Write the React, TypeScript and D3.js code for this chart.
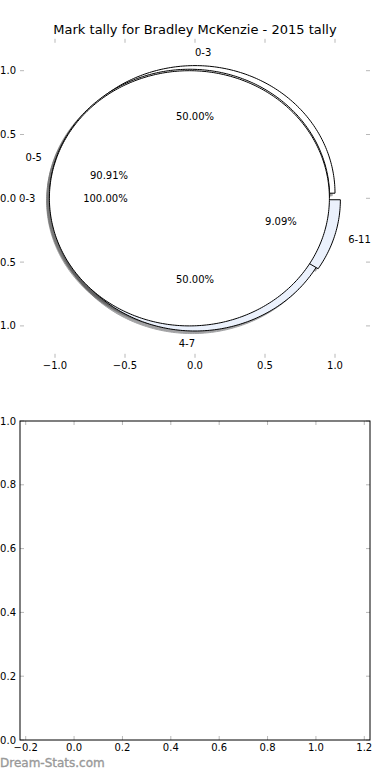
import React from 'react';
import * as d3 from 'd3';

const title = 'Mark tally for Bradley McKenzie - 2015 tally';
const pieALabels = ['0-3', '4-7'];
const pieAValues = [1, 1];
const pieBLabels = ['0-5', '6-11'];
const pieBValues = [10, 1];
const pieCLabels = ['0-3'];
const pieCValues = [1];
const wedgeColors = ['#ffffff', '#ebf1fc'];
const explodeAmt = 0.04;
const topXTicks = [-1, -0.5, 0, 0.5, 1];
const topYTicks = [-1, -0.5, 0, 0.5, 1];
const botXTicks = [-0.2, 0, 0.2, 0.4, 0.6, 0.8, 1.0, 1.2];
const botYTicks = [0, 0.2, 0.4, 0.6, 0.8, 1.0];
const watermark = 'Dream-Stats.com';

const FONT = 'DejaVu Sans';
const TICK_COLOR = '#b8b8b8';

const L = 20, R = 370;
const topAx = { top: 38.8, bottom: 357.8 };
const botAx = { top: 421, bottom: 740 };

const xTop = d3.scaleLinear().domain([-1.25, 1.25]).range([L, R]);
const yTop = d3.scaleLinear().domain([-1.25, 1.25]).range([topAx.bottom, topAx.top]);
const xBot = d3.scaleLinear().domain([-0.2236, 1.2236]).range([L, R]);
const yBot = d3.scaleLinear().domain([0, 1]).range([botAx.bottom, botAx.top]);

const lineGen = d3
  .line<[number, number]>()
  .x((d) => xTop(d[0]))
  .y((d) => yTop(d[1]));

function wedgePoints(cx: number, cy: number, a0: number, a1: number): [number, number][] {
  const full = Math.abs(a1 - a0 - 2 * Math.PI) < 1e-9;
  const n = Math.max(8, Math.ceil(((a1 - a0) / (2 * Math.PI)) * 360));
  const arc: [number, number][] = d3.range(n + 1).map((i) => {
    const t = a0 + ((a1 - a0) * i) / n;
    return [cx + Math.cos(t), cy + Math.sin(t)] as [number, number];
  });
  if (full) return arc;
  return [[cx, cy], ...arc];
}

type Wedge = {
  label: string;
  pct: string;
  color: string;
  cx: number;
  cy: number;
  a0: number;
  a1: number;
  mid: number;
};

function buildPie(values: number[], labels: string[]): Wedge[] {
  const total = d3.sum(values);
  const arcs = d3
    .pie<number>()
    .sort(null)
    .startAngle(0)
    .endAngle(2 * Math.PI)(values);
  return arcs.map((a, i) => {
    const mid = (a.startAngle + a.endAngle) / 2;
    return {
      label: labels[i],
      pct: d3.format('.2f')((values[i] / total) * 100) + '%',
      color: wedgeColors[i % wedgeColors.length],
      cx: explodeAmt * Math.cos(mid),
      cy: explodeAmt * Math.sin(mid),
      a0: a.startAngle,
      a1: a.endAngle,
      mid,
    };
  });
}

const pies = [
  buildPie(pieAValues, pieALabels),
  buildPie(pieBValues, pieBLabels),
  buildPie(pieCValues, pieCLabels),
];
const allWedges = pies.flat();

function shadowColor(c: string) {
  const rgb = d3.rgb(c);
  return d3.rgb(rgb.r * 0.3, rgb.g * 0.3, rgb.b * 0.3).formatHex();
}

const fmt1 = d3.format('.1f');

export default function App() {
  return (
    <svg
      width={390}
      height={780}
      style={{ position: 'absolute', left: 0, top: 0, background: '#fff' }}
      fontFamily={FONT}
    >
      <rect x={0} y={0} width={390} height={780} fill="#fff" />
      {/* title */}
      <text x={195} y={34} textAnchor="middle" fontSize={13} fill="#000">
        {title}
      </text>

      {/* shadows */}
      {allWedges.map((w, i) => {
        const pts = wedgePoints(w.cx - 0.02, w.cy - 0.02, w.a0, w.a1);
        const c = shadowColor(w.color);
        return (
          <path
            key={'s' + i}
            d={lineGen(pts) + 'Z'}
            fill={c}
            stroke={c}
            strokeWidth={1}
            opacity={0.5}
          />
        );
      })}
      {/* wedges */}
      {allWedges.map((w, i) => {
        const pts = wedgePoints(w.cx, w.cy, w.a0, w.a1);
        return (
          <path
            key={'w' + i}
            d={lineGen(pts) + 'Z'}
            fill={w.color}
            stroke="#000"
            strokeWidth={1}
            strokeLinejoin="miter"
          />
        );
      })}
      {/* labels */}
      {allWedges.map((w, i) => {
        const lx = w.cx + 1.1 * Math.cos(w.mid);
        const ly = w.cy + 1.1 * Math.sin(w.mid);
        const px = w.cx + 0.6 * Math.cos(w.mid);
        const py = w.cy + 0.6 * Math.sin(w.mid);
        const anchorX = 1.1 * Math.cos(w.mid);
        return (
          <g key={'t' + i} fontSize={10} fill="#000">
            <text
              x={xTop(lx)}
              y={yTop(ly)}
              dy="0.35em"
              textAnchor={anchorX > 0 ? 'start' : 'end'}
            >
              {w.label}
            </text>
            <text x={xTop(px)} y={yTop(py)} dy="0.35em" textAnchor="middle">
              {w.pct}
            </text>
          </g>
        );
      })}

      {/* top axes ticks */}
      <g stroke={TICK_COLOR} strokeWidth={1}>
        {topXTicks.map((t, i) => (
          <g key={'tx' + i}>
            <line x1={xTop(t)} x2={xTop(t)} y1={topAx.bottom} y2={topAx.bottom - 4} />
            <line x1={xTop(t)} x2={xTop(t)} y1={topAx.top} y2={topAx.top + 4} />
          </g>
        ))}
        {topYTicks.map((t, i) => (
          <g key={'ty' + i}>
            <line x1={L} x2={L + 4} y1={yTop(t)} y2={yTop(t)} />
            <line x1={R} x2={R - 4} y1={yTop(t)} y2={yTop(t)} />
          </g>
        ))}
      </g>
      <g fontSize={10} fill="#000">
        {topXTicks.map((t, i) => (
          <text key={'txl' + i} x={xTop(t)} y={topAx.bottom + 11} textAnchor="middle">
            {fmt1(t)}
          </text>
        ))}
        {topYTicks.map((t, i) => (
          <text key={'tyl' + i} x={L - 4} y={yTop(t)} dy="0.35em" textAnchor="end">
            {fmt1(t)}
          </text>
        ))}
      </g>

      {/* bottom axes */}
      <g stroke={TICK_COLOR} strokeWidth={1}>
        {botXTicks.map((t, i) => (
          <g key={'bx' + i}>
            <line x1={xBot(t)} x2={xBot(t)} y1={botAx.bottom} y2={botAx.bottom - 4} />
            <line x1={xBot(t)} x2={xBot(t)} y1={botAx.top} y2={botAx.top + 4} />
          </g>
        ))}
        {botYTicks.map((t, i) => (
          <g key={'by' + i}>
            <line x1={L} x2={L + 4} y1={yBot(t)} y2={yBot(t)} />
            <line x1={R} x2={R - 4} y1={yBot(t)} y2={yBot(t)} />
          </g>
        ))}
      </g>
      <rect
        x={L}
        y={botAx.top}
        width={R - L}
        height={botAx.bottom - botAx.top}
        fill="none"
        stroke="#000"
        strokeWidth={1}
      />
      <g fontSize={10} fill="#000">
        {botXTicks.map((t, i) => (
          <text key={'bxl' + i} x={xBot(t)} y={botAx.bottom + 11} textAnchor="middle">
            {fmt1(t)}
          </text>
        ))}
        {botYTicks.map((t, i) => (
          <text key={'byl' + i} x={L - 4} y={yBot(t)} dy="0.35em" textAnchor="end">
            {fmt1(t)}
          </text>
        ))}
      </g>

      <text
        x={0}
        y={767}
        fontSize={12}
        fill="#999"
        stroke="#999"
        strokeWidth={0.35}
      >
        {watermark}
      </text>
    </svg>
  );
}
